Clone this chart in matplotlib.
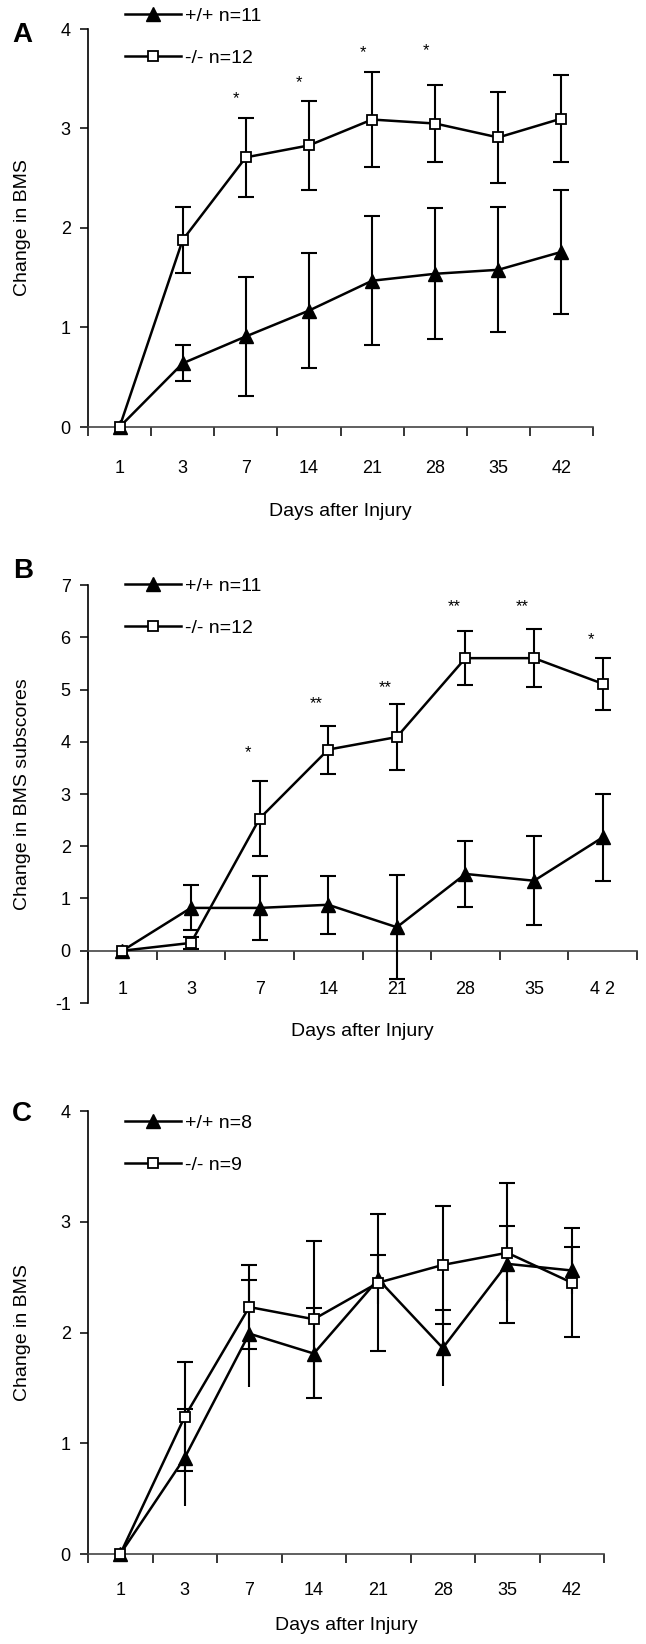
import numpy as np
import matplotlib
matplotlib.use('Agg')
import matplotlib.pyplot as plt

plt.rcParams['font.family'] = ['Liberation Sans', 'DejaVu Sans']
plt.rcParams['axes.unicode_minus'] = False

# x categories (days after injury)
days = ['1', '3', '7', '14', '21', '28', '35', '42']
days_b = ['1', '3', '7', '14', '21', '28', '35', '4 2']

# panel A : change in BMS
a_wt = [0, 0.64, 0.91, 1.17, 1.47, 1.54, 1.58, 1.76]
a_wt_err = [0, 0.18, 0.60, 0.58, 0.65, 0.66, 0.63, 0.62]
a_ko = [0, 1.88, 2.71, 2.83, 3.09, 3.05, 2.91, 3.10]
a_ko_err = [0, 0.33, 0.40, 0.45, 0.48, 0.39, 0.46, 0.44]
a_star_x = [2, 3, 4, 5]
a_star_y = [3.35, 3.51, 3.82, 3.84]
a_star_txt = ['*', '*', '*', '*']

# panel B : change in BMS subscores
b_wt = [0, 0.82, 0.82, 0.88, 0.45, 1.47, 1.34, 2.17]
b_wt_err = [0, 0.43, 0.62, 0.56, 1.00, 0.63, 0.85, 0.83]
b_ko = [0, 0.15, 2.53, 3.85, 4.09, 5.60, 5.60, 5.11]
b_ko_err = [0, 0.12, 0.71, 0.46, 0.64, 0.52, 0.55, 0.50]
b_star_x = [2, 3, 4, 5, 6, 7]
b_star_y = [3.89, 4.83, 5.13, 6.68, 6.68, 6.06]
b_star_txt = ['*', '**', '**', '**', '**', '*']

# panel C : change in BMS
c_wt = [0, 0.87, 1.99, 1.81, 2.48, 1.86, 2.62, 2.56]
c_wt_err = [0, 0.44, 0.48, 0.41, 0.22, 0.34, 0.34, 0.21]
c_ko = [0, 1.24, 2.23, 2.12, 2.45, 2.61, 2.72, 2.45]
c_ko_err = [0, 0.49, 0.38, 0.71, 0.62, 0.53, 0.63, 0.49]

W, H = 646, 1644
LW = 1.8
LWE = 1.5
CAP = 5.8


def box(l, r, t, b):
    return [l / W, 1 - b / H, (r - l) / W, (b - t) / H]


def panel(ax, px, wt, wt_err, ko, ko_err, labels, ylim, yticks, ylabel,
          ticklabels, tickpad, leg_top, top_cap_only=False, zero_spine=False):
    x = np.arange(len(wt))
    wt = np.array(wt)
    wt_err = np.array(wt_err)
    ko = np.array(ko)
    ko_err = np.array(ko_err)

    if top_cap_only:
        # +/+ bars in C only have a cap on the upper end
        ax.errorbar(x[1:], wt[1:], yerr=wt_err[1:], fmt='none', ecolor='k',
                    elinewidth=LWE, capsize=0, zorder=3)
        ax.plot(x[1:], wt[1:] + wt_err[1:], ls='none', marker='_', ms=2 * CAP,
                mew=LWE, color='k', zorder=3)
    else:
        ax.errorbar(x[1:], wt[1:], yerr=wt_err[1:], fmt='none', ecolor='k',
                    elinewidth=LWE, capsize=CAP, capthick=LWE, zorder=3)
    ax.errorbar(x[1:], ko[1:], yerr=ko_err[1:], fmt='none', ecolor='k',
                elinewidth=LWE, capsize=CAP, capthick=LWE, zorder=3)

    l1, = ax.plot(x, wt, '-^', color='k', lw=LW, ms=10, clip_on=False, zorder=4)
    l2, = ax.plot(x, ko, '-s', color='k', mfc='white', mec='k', mew=1.3,
                  ms=6.5, lw=LW, clip_on=False, zorder=5)

    ax.set_xlim(-0.5, 7.5)
    ax.set_ylim(*ylim)
    for s in ['top', 'right']:
        ax.spines[s].set_visible(False)
    ax.spines['left'].set_linewidth(1.2)
    ax.spines['bottom'].set_linewidth(1.2)
    ax.spines['bottom'].set_color('#444444')
    if zero_spine:
        ax.spines['bottom'].set_position(('data', 0))

    ax.set_xticks(np.arange(-0.5, 8, 1))
    ax.set_xticklabels([])
    ax.set_xticks(x, minor=True)
    ax.set_xticklabels(ticklabels, minor=True)
    ax.tick_params(axis='x', which='major', length=6.5, width=1.1, direction='out')
    ax.tick_params(axis='x', which='minor', length=0, pad=tickpad, labelsize=13)
    ax.set_yticks(yticks)
    ax.tick_params(axis='y', length=5.5, width=1.1, pad=7, labelsize=13)

    l, r, t, b = px
    ax.set_ylabel(ylabel, fontsize=14, va='center')
    ax.yaxis.set_label_coords((23 - l) / (r - l), 0.5)
    ax.set_xlabel('Days after Injury', fontsize=14, va='center')

    ax.legend([l1, l2], labels, loc='upper left',
              bbox_to_anchor=(125 / W, 1 - leg_top / H),
              bbox_transform=ax.figure.transFigure, frameon=False,
              fontsize=14, handlelength=2.9, handletextpad=0.2,
              labelspacing=1.25, borderpad=0, borderaxespad=0, numpoints=1)


def stars(ax, xs, ys, txt, off):
    for xi, yi, t in zip(xs, ys, txt):
        ax.annotate(t, (xi + off, yi), xytext=(0, -7), textcoords='offset points',
                    ha='center', va='baseline', fontsize=12)


fig = plt.figure(figsize=(W / 100, H / 100), dpi=100)

pa = (88, 593, 29, 427)
pb = (88, 637, 585, 1003)
pc = (88, 604, 1111, 1554)

axA = fig.add_axes(box(*pa))
axB = fig.add_axes(box(*pb))
axC = fig.add_axes(box(*pc))

panel(axA, pa, a_wt, a_wt_err, a_ko, a_ko_err, ['+/+ n=11', '-/- n=12'],
      (0, 4), [0, 1, 2, 3, 4], 'Change in BMS', days, 24, 7)
axA.xaxis.set_label_coords(0.5, -(512 - 427) / (427 - 29))
stars(axA, a_star_x, a_star_y, a_star_txt, -0.15)

panel(axB, pb, b_wt, b_wt_err, b_ko, b_ko_err, ['+/+ n=11', '-/- n=12'],
      (-1, 7), list(range(-1, 8)), 'Change in BMS subscores', days_b, 21.5, 577,
      zero_spine=True)
axB.xaxis.set_label_coords(0.5, -(1032 - 1003) / (1003 - 585))
stars(axB, b_star_x, b_star_y, b_star_txt, -0.17)

panel(axC, pc, c_wt, c_wt_err, c_ko, c_ko_err, ['+/+ n=8', '-/- n=9'],
      (0, 4), [0, 1, 2, 3, 4], 'Change in BMS', days, 20, 1114,
      top_cap_only=True)
axC.xaxis.set_label_coords(0.5, -(1625 - 1554) / (1554 - 1111))

for lab, (lx, ly) in zip(['A', 'B', 'C'], [(22, 35), (23, 571), (22, 1114)]):
    fig.text(lx / W, 1 - ly / H, lab, fontsize=20, weight='bold',
             ha='center', va='center')

fig.savefig('out.png', dpi=100)
